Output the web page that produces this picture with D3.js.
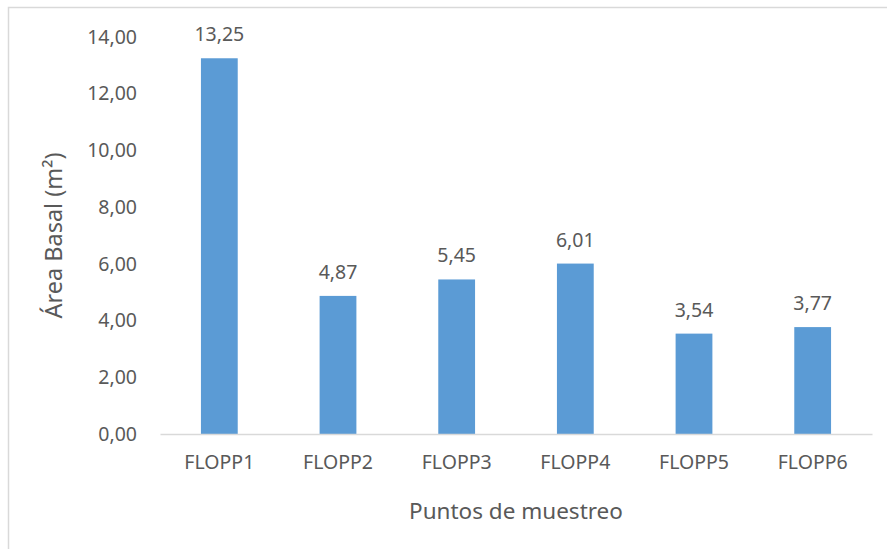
<!DOCTYPE html>
<html>
<head>
<meta charset="utf-8">
<script src="https://cdn.jsdelivr.net/npm/d3@7"></script>
<style>
  body { margin: 0; background: #fff; }
  text { font-family: "Noto Sans", "Open Sans", sans-serif; fill: #595959; }
</style>
</head>
<body>
<div id="wrapper"></div>
<script>
const categories = ["FLOPP1", "FLOPP2", "FLOPP3", "FLOPP4", "FLOPP5", "FLOPP6"]
const values = [13.25, 4.87, 5.45, 6.01, 3.54, 3.77]
const yTicks = [0, 2, 4, 6, 8, 10, 12, 14]

const fmt = v => v.toFixed(2).replace(".", ",")

function drawBars() {
    const dimensions = {
        width: 887,
        height: 549,
        margin: { top: 37, right: 15, bottom: 115, left: 160 },
    }
    dimensions.boundedWidth = dimensions.width
        - dimensions.margin.left
        - dimensions.margin.right
    dimensions.boundedHeight = dimensions.height
        - dimensions.margin.top
        - dimensions.margin.bottom

    const wrapper = d3.select("#wrapper")
        .append("svg")
        .attr("width", dimensions.width)
        .attr("height", dimensions.height)

    // chart border
    wrapper.append("rect")
        .attr("x", 8.5)
        .attr("y", 7.5)
        .attr("width", 900)
        .attr("height", 600)
        .attr("fill", "none")
        .attr("stroke", "#d9d9d9")
        .attr("stroke-width", 1.5)

    const bounds = wrapper.append("g")
        .attr("transform", `translate(${dimensions.margin.left}, ${dimensions.margin.top})`)

    const xScale = d3.scaleBand()
        .domain(categories)
        .range([0, dimensions.boundedWidth])
        .paddingInner(0.69)
        .paddingOuter(0.345)
    const yScale = d3.scaleLinear()
        .domain([0, 14])
        .range([dimensions.boundedHeight, 0])

    // y axis labels
    const yAxis = d3.axisLeft(yScale)
        .tickValues(yTicks)
        .tickFormat(fmt)
        .tickSize(0)
        .tickPadding(23)
    const yAxisGroup = bounds.append("g").call(yAxis)
    yAxisGroup.select(".domain").remove()
    yAxisGroup.selectAll("text")
        .attr("font-size", 19.5)
        .attr("font-family", null)

    // bars
    bounds.selectAll("rect.bar")
        .data(values)
        .join("rect")
        .attr("class", "bar")
        .attr("x", (d, i) => xScale(categories[i]))
        .attr("y", d => yScale(d))
        .attr("width", xScale.bandwidth())
        .attr("height", d => dimensions.boundedHeight - yScale(d))
        .attr("fill", "#5b9bd5")

    // data labels
    bounds.selectAll("text.label")
        .data(values)
        .join("text")
        .attr("class", "label")
        .attr("x", (d, i) => xScale(categories[i]) + xScale.bandwidth() / 2)
        .attr("y", d => yScale(d) - 17)
        .attr("text-anchor", "middle")
        .attr("font-size", 19.5)
        .text(fmt)

    // x axis
    const xAxis = d3.axisBottom(xScale).tickSize(0).tickPadding(21)
    const xAxisGroup = bounds.append("g")
        .attr("transform", `translate(0, ${dimensions.boundedHeight})`)
        .call(xAxis)
    xAxisGroup.select(".domain")
        .attr("stroke", "#d9d9d9")
        .attr("stroke-width", 1.5)
    xAxisGroup.selectAll("text")
        .attr("font-size", 19.5)
        .attr("font-family", null)

    // axis titles
    wrapper.append("text")
        .attr("x", dimensions.margin.left + dimensions.boundedWidth / 2)
        .attr("y", 519)
        .attr("text-anchor", "middle")
        .attr("font-size", 22.5)
        .text("Puntos de muestreo")

    wrapper.append("text")
        .attr("transform", `translate(62, ${dimensions.margin.top + dimensions.boundedHeight / 2}) rotate(-90)`)
        .attr("text-anchor", "middle")
        .attr("font-size", 23.5)
        .text("Área Basal (m²)")
}

drawBars()
</script>
</body>
</html>
